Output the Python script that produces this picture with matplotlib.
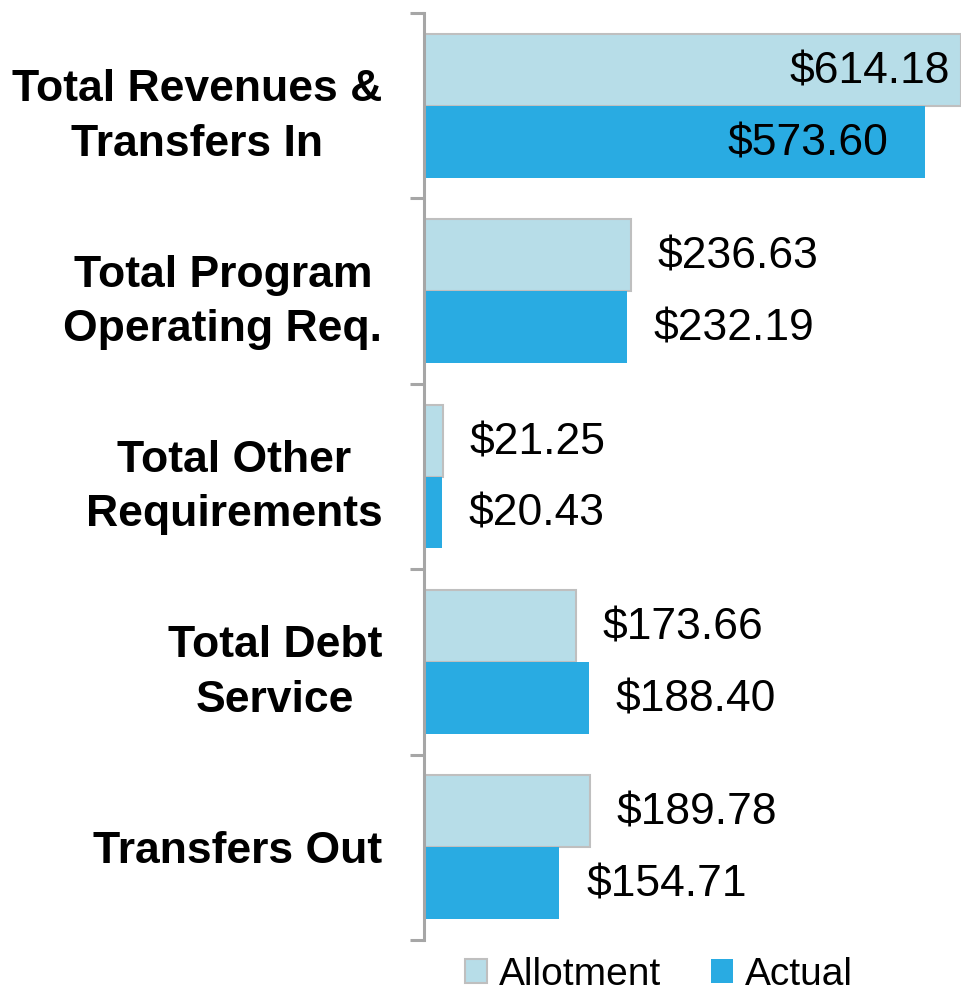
import matplotlib.pyplot as plt
import numpy as np
from matplotlib.patches import Patch

plt.rcParams['font.family'] = ['Liberation Sans', 'DejaVu Sans']

categories = ['Total Revenues &\nTransfers In', 'Total Program\nOperating Req.',
              'Total Other\nRequirements', 'Total Debt\nService', 'Transfers Out']
allotment = [614.18, 236.63, 21.25, 173.66, 189.78]
actual = [573.60, 232.19, 20.43, 188.40, 154.71]
series_names = ['Allotment', 'Actual']

c_allot = '#B7DDE8'
c_actual = '#29ABE2'
c_grey = '#A6A6A6'

fig = plt.figure(figsize=(9.61, 9.92), dpi=100)
ax = fig.add_axes([424 / 961, 1 - 940 / 992, 1 - 424 / 961, (940 - 13) / 992])

y = np.arange(len(categories))
h = 0.388
ax.barh(y - h / 2, allotment, height=h, color=c_allot, edgecolor='#BFBFBF', linewidth=1.5)
ax.barh(y + h / 2, actual, height=h, color=c_actual, linewidth=0)

ax.set_xlim(0, 614.5)
ax.set_ylim(len(categories) - 0.5, -0.5)

# value labels: inside for the long first group, outside otherwise
for vals, dy, inside_off in [(allotment, -h / 2, -11), (actual, h / 2, -37)]:
    for yi, v in zip(y, vals):
        if v > 400:
            ax.annotate(f'${v:.2f}', (v, yi + dy), xytext=(inside_off, -2), textcoords='offset pixels',
                        ha='right', va='center', fontsize=32, annotation_clip=False)
        else:
            ax.annotate(f'${v:.2f}', (v, yi + dy), xytext=(27, -2), textcoords='offset pixels',
                        ha='left', va='center', fontsize=32, annotation_clip=False)

for s in ['top', 'right', 'bottom']:
    ax.spines[s].set_visible(False)
ax.spines['left'].set_color(c_grey)
ax.spines['left'].set_linewidth(2.2)
ax.set_xticks([])

ax.set_yticks(y)
ax.set_yticklabels(categories, fontsize=32, fontweight='bold', multialignment='center',
                   linespacing=1.42)
ax.tick_params(axis='y', which='major', length=0, pad=30)
ax.set_yticks(np.arange(-0.5, len(categories)), minor=True)
ax.tick_params(axis='y', which='minor', length=10, width=2.2, color=c_grey)

handles = [Patch(facecolor=c_allot, edgecolor='#BFBFBF', linewidth=1.5),
           Patch(facecolor=c_actual, linewidth=0)]
fig.legend(handles, series_names, loc='center', bbox_to_anchor=(659 / 961, 1 - 975 / 992),
           ncol=2, frameon=False, fontsize=28, handlelength=0.56, handleheight=0.56,
           handletextpad=0.3, columnspacing=1.3, borderpad=0)

fig.savefig('out.png', dpi=100)
